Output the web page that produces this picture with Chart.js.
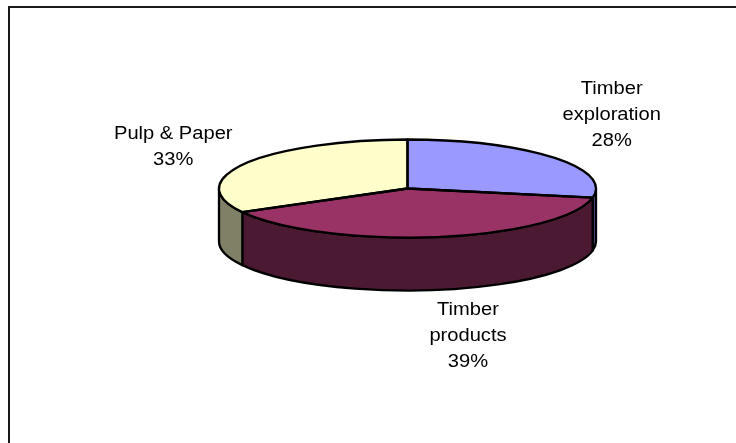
<!DOCTYPE html>
<html>
<head>
<meta charset="utf-8">
<script src="https://cdn.jsdelivr.net/npm/chart.js@4"></script>
<style>
body{margin:0;background:#fff;}
#caja{width:736px;height:443px;}
</style>
</head>
<body>
<div id="caja"><canvas id="grafico" width="736" height="443"></canvas></div>
<script>
//DATOS
var categorias = [['Timber', 'exploration'], ['Timber', 'products'], ['Pulp & Paper']];
var valores = [28, 39, 33];
var coloresArriba = ['#9999ff', '#993366', '#ffffcc'];
var coloresLado = ['#4c4c80', '#4c1933', '#808066'];

var ctxGrafico = document.getElementById('grafico').getContext('2d');

//MARCO DEL GRAFICO
var marco = {
    id: 'marco',
    beforeDraw: function(chart){
        var ctx = chart.ctx;
        ctx.save();
        ctx.fillStyle = '#1a1a1a';
        ctx.fillRect(8, 6, chart.width, 2);
        ctx.fillRect(8, 6, 2, chart.height);
        ctx.restore();
    }
};

//PASTEL 3D: aplasta el pastel de chart.js y le pone los lados
var pastel3d = {
    id: 'pastel3d',
    beforeDatasetsDraw: function(chart, args, opts){
        var ctx = chart.ctx;
        var arcos = chart.getDatasetMeta(0).data;
        var a0 = arcos[0];
        var cx = a0.x, r = a0.outerRadius, ry = r * opts.tilt, cy = opts.centroY, d = opts.alto;
        ctx.save();
        ctx.lineWidth = opts.grosor;
        ctx.lineJoin = 'round';
        ctx.strokeStyle = '#000';
        arcos.forEach(function(arco, i){
            var s = Math.max(arco.startAngle, 0);
            var e = Math.min(arco.endAngle, Math.PI);
            if (e <= s) return;
            ctx.beginPath();
            ctx.ellipse(cx, cy, r, ry, 0, s, e, false);
            ctx.lineTo(cx + r * Math.cos(e), cy + ry * Math.sin(e) + d);
            ctx.ellipse(cx, cy + d, r, ry, 0, e, s, true);
            ctx.closePath();
            ctx.fillStyle = coloresLado[i];
            ctx.fill();
            ctx.stroke();
        });
        ctx.restore();
        ctx.save();
        ctx.translate(0, cy);
        ctx.scale(1, opts.tilt);
        ctx.translate(0, -a0.y);
    },
    afterDatasetsDraw: function(chart, args, opts){
        var ctx = chart.ctx;
        ctx.restore();
        var arcos = chart.getDatasetMeta(0).data;
        var a0 = arcos[0];
        var cx = a0.x, r = a0.outerRadius, ry = r * opts.tilt, cy = opts.centroY, d = opts.alto;
        ctx.save();
        ctx.lineWidth = opts.grosor;
        ctx.lineJoin = 'round';
        ctx.strokeStyle = '#000';
        arcos.forEach(function(arco){
            ctx.beginPath();
            ctx.moveTo(cx, cy);
            ctx.ellipse(cx, cy, r, ry, 0, arco.startAngle, arco.endAngle, false);
            ctx.closePath();
            ctx.stroke();
        });
        //ETIQUETAS
        var total = valores.reduce(function(a, b){ return a + b; }, 0);
        ctx.fillStyle = '#000';
        ctx.font = '17.5px "Liberation Sans", Arial, sans-serif';
        ctx.textAlign = 'center';
        ctx.textBaseline = 'middle';
        arcos.forEach(function(arco, i){
            var m = (arco.startAngle + arco.endAngle) / 2;
            var ax = cx + r * Math.cos(m);
            var ay = cy + ry * Math.sin(m) + (Math.sin(m) > 0 ? d : 0);
            var lineas = categorias[i].concat([Math.round(valores[i] / total * 100) + '%']);
            var px = ax + opts.desplazar[i][0];
            var py = ay + opts.desplazar[i][1] - (lineas.length - 1) * opts.interlinea / 2;
            lineas.forEach(function(t, k){
                ctx.save();
                ctx.translate(px, py + k * opts.interlinea);
                ctx.scale(1.15, 1);
                ctx.fillText(t, 0, 0);
                ctx.restore();
            });
        });
        ctx.restore();
    }
};

var config = {
    type: 'pie',
    data: {
        labels: categorias,
        datasets: [{
            data: valores,
            backgroundColor: coloresArriba,
            borderWidth: 0,
            clip: false
        }]
    },
    options: {
        responsive: false,
        animation: false,
        events: [],
        devicePixelRatio: 1,
        layout: { padding: { left: 219, right: 140, top: 33, bottom: 33 } },
        plugins: {
            legend: { display: false },
            tooltip: { enabled: false },
            pastel3d: {
                tilt: 0.26,
                centroY: 188.5,
                alto: 53,
                grosor: 2.3,
                interlinea: 26,
                desplazar: [[59, -42], [31, 46], [-72, -16]]
            }
        }
    },
    plugins: [marco, pastel3d]
};
var miGrafico = new Chart(ctxGrafico, config);
</script>
</body>
</html>
